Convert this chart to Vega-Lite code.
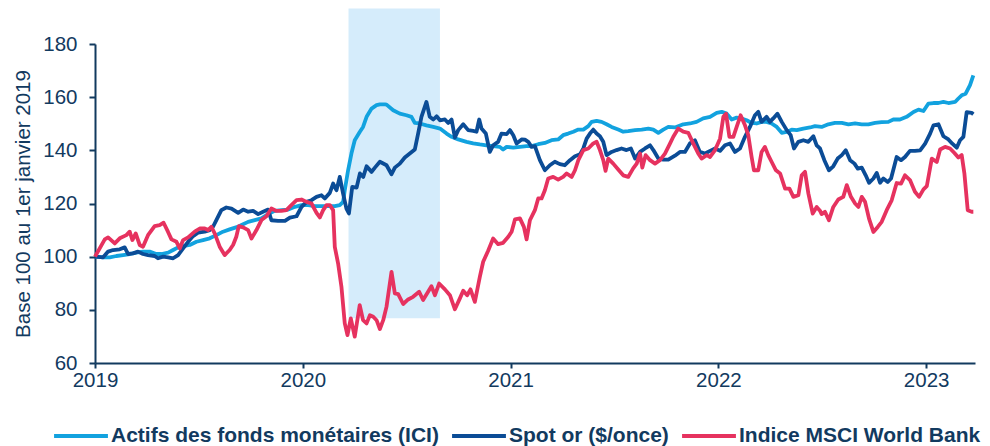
{
  "$schema": "https://vega.github.io/schema/vega-lite/v6.json",
  "width": 880,
  "height": 319,
  "autosize": {"type": "none"},
  "padding": {"left": 95, "top": 44, "right": 15, "bottom": 83},
  "background": "white",
  "config": {"view": {"stroke": null}, "font": "Liberation Sans"},
  "datasets": {
    "shade": [{"t": 2020.22, "t2": 2020.66, "v": 76.8, "v2": 193.4}],
    "ici": [
      {"t": 2019.0, "v": 100}, {"t": 2019.039, "v": 99.75}, {"t": 2019.071, "v": 99.75}, {"t": 2019.103, "v": 100.25},
      {"t": 2019.135, "v": 100.6}, {"t": 2019.167, "v": 101}, {"t": 2019.199, "v": 101.5}, {"t": 2019.231, "v": 101.9},
      {"t": 2019.263, "v": 101.9}, {"t": 2019.295, "v": 101}, {"t": 2019.32, "v": 101}, {"t": 2019.352, "v": 101.5},
      {"t": 2019.376, "v": 102.5}, {"t": 2019.4, "v": 103.5}, {"t": 2019.424, "v": 104}, {"t": 2019.456, "v": 104.4},
      {"t": 2019.488, "v": 105.6}, {"t": 2019.52, "v": 106.25}, {"t": 2019.552, "v": 106.9}, {"t": 2019.584, "v": 108.1},
      {"t": 2019.616, "v": 109.4}, {"t": 2019.648, "v": 110.25}, {"t": 2019.69, "v": 111.3}, {"t": 2019.705, "v": 111.9},
      {"t": 2019.737, "v": 113.1}, {"t": 2019.769, "v": 113.75}, {"t": 2019.801, "v": 114.4}, {"t": 2019.833, "v": 116},
      {"t": 2019.865, "v": 117.25}, {"t": 2019.898, "v": 117.5}, {"t": 2019.93, "v": 117.7}, {"t": 2019.962, "v": 118.75},
      {"t": 2019.994, "v": 119.4}, {"t": 2020.026, "v": 119.4}, {"t": 2020.058, "v": 119}, {"t": 2020.09, "v": 119},
      {"t": 2020.122, "v": 119}, {"t": 2020.154, "v": 119}, {"t": 2020.178, "v": 119.4}, {"t": 2020.194, "v": 120.6},
      {"t": 2020.202, "v": 125}, {"t": 2020.218, "v": 132.5}, {"t": 2020.234, "v": 138.8}, {"t": 2020.25, "v": 143.8},
      {"t": 2020.274, "v": 146.9}, {"t": 2020.29, "v": 148.8}, {"t": 2020.307, "v": 152.6}, {"t": 2020.331, "v": 155.7},
      {"t": 2020.355, "v": 157}, {"t": 2020.371, "v": 157.3}, {"t": 2020.395, "v": 157.3}, {"t": 2020.403, "v": 157.2},
      {"t": 2020.435, "v": 155.1}, {"t": 2020.467, "v": 153.8}, {"t": 2020.499, "v": 153.2}, {"t": 2020.523, "v": 152.6},
      {"t": 2020.539, "v": 150.3}, {"t": 2020.563, "v": 150.1}, {"t": 2020.595, "v": 149.4}, {"t": 2020.628, "v": 148.8},
      {"t": 2020.66, "v": 148.2}, {"t": 2020.692, "v": 146.3}, {"t": 2020.716, "v": 145.1}, {"t": 2020.748, "v": 144.1},
      {"t": 2020.788, "v": 143.2}, {"t": 2020.82, "v": 142.6}, {"t": 2020.852, "v": 142.2}, {"t": 2020.884, "v": 141.9},
      {"t": 2020.916, "v": 141.6}, {"t": 2020.948, "v": 141.3}, {"t": 2020.964, "v": 140.3}, {"t": 2020.981, "v": 141.3},
      {"t": 2021.013, "v": 141.05}, {"t": 2021.045, "v": 141.3}, {"t": 2021.077, "v": 141.6}, {"t": 2021.101, "v": 141.6},
      {"t": 2021.133, "v": 142.3}, {"t": 2021.165, "v": 142.8}, {"t": 2021.197, "v": 143.8}, {"t": 2021.229, "v": 144.1},
      {"t": 2021.253, "v": 145.7}, {"t": 2021.277, "v": 146.3}, {"t": 2021.302, "v": 147}, {"t": 2021.326, "v": 147.8},
      {"t": 2021.35, "v": 147.8}, {"t": 2021.374, "v": 149.1}, {"t": 2021.39, "v": 150.7}, {"t": 2021.414, "v": 151.1},
      {"t": 2021.438, "v": 150.7}, {"t": 2021.462, "v": 149.8}, {"t": 2021.486, "v": 148.8}, {"t": 2021.518, "v": 147.8},
      {"t": 2021.542, "v": 147}, {"t": 2021.566, "v": 147.2}, {"t": 2021.599, "v": 147.6}, {"t": 2021.631, "v": 147.8},
      {"t": 2021.663, "v": 148.2}, {"t": 2021.687, "v": 147.8}, {"t": 2021.711, "v": 146.6}, {"t": 2021.735, "v": 147.8},
      {"t": 2021.759, "v": 148.8}, {"t": 2021.791, "v": 148.6}, {"t": 2021.831, "v": 149.8}, {"t": 2021.863, "v": 150.1},
      {"t": 2021.895, "v": 150.7}, {"t": 2021.927, "v": 152}, {"t": 2021.96, "v": 152.6}, {"t": 2021.992, "v": 154.1},
      {"t": 2022.016, "v": 154.5}, {"t": 2022.04, "v": 153.8}, {"t": 2022.064, "v": 151.6}, {"t": 2022.088, "v": 152.3},
      {"t": 2022.112, "v": 152}, {"t": 2022.136, "v": 151.3}, {"t": 2022.16, "v": 150.3}, {"t": 2022.184, "v": 150.1},
      {"t": 2022.208, "v": 150.7}, {"t": 2022.232, "v": 150.7}, {"t": 2022.256, "v": 150.1}, {"t": 2022.281, "v": 148.8},
      {"t": 2022.305, "v": 146.6}, {"t": 2022.329, "v": 146.9}, {"t": 2022.353, "v": 147.8}, {"t": 2022.377, "v": 147.6},
      {"t": 2022.409, "v": 148.2}, {"t": 2022.441, "v": 148.6}, {"t": 2022.465, "v": 149.1}, {"t": 2022.497, "v": 148.8},
      {"t": 2022.529, "v": 149.8}, {"t": 2022.561, "v": 150.3}, {"t": 2022.594, "v": 150.3}, {"t": 2022.626, "v": 149.8},
      {"t": 2022.658, "v": 150.1}, {"t": 2022.69, "v": 149.8}, {"t": 2022.722, "v": 149.8}, {"t": 2022.754, "v": 150.3},
      {"t": 2022.786, "v": 150.6}, {"t": 2022.818, "v": 150.7}, {"t": 2022.842, "v": 151.6}, {"t": 2022.874, "v": 151.6},
      {"t": 2022.906, "v": 152.6}, {"t": 2022.939, "v": 154.4}, {"t": 2022.963, "v": 155.3}, {"t": 2022.987, "v": 154.8},
      {"t": 2023.011, "v": 157.6}, {"t": 2023.035, "v": 157.8}, {"t": 2023.059, "v": 157.8}, {"t": 2023.083, "v": 158.2},
      {"t": 2023.107, "v": 157.8}, {"t": 2023.139, "v": 158.2}, {"t": 2023.155, "v": 159.5}, {"t": 2023.171, "v": 160.7},
      {"t": 2023.19, "v": 161.3}, {"t": 2023.211, "v": 164.5}, {"t": 2023.227, "v": 168.2}
    ],
    "gold": [
      {"t": 2019.0, "v": 100}, {"t": 2019.039, "v": 99.75}, {"t": 2019.063, "v": 101.9}, {"t": 2019.087, "v": 102.5},
      {"t": 2019.119, "v": 102.75}, {"t": 2019.143, "v": 103.5}, {"t": 2019.159, "v": 101}, {"t": 2019.183, "v": 101.25},
      {"t": 2019.207, "v": 101.9}, {"t": 2019.231, "v": 101}, {"t": 2019.255, "v": 100.6}, {"t": 2019.287, "v": 100.25},
      {"t": 2019.303, "v": 99.4}, {"t": 2019.328, "v": 100}, {"t": 2019.352, "v": 99.75}, {"t": 2019.376, "v": 99.4},
      {"t": 2019.4, "v": 100.6}, {"t": 2019.424, "v": 103.1}, {"t": 2019.448, "v": 105.6}, {"t": 2019.472, "v": 107.75},
      {"t": 2019.496, "v": 109}, {"t": 2019.528, "v": 109.4}, {"t": 2019.552, "v": 110}, {"t": 2019.568, "v": 111.25},
      {"t": 2019.584, "v": 113.75}, {"t": 2019.608, "v": 117.5}, {"t": 2019.632, "v": 118.5}, {"t": 2019.657, "v": 118.1},
      {"t": 2019.689, "v": 116.5}, {"t": 2019.713, "v": 117.7}, {"t": 2019.737, "v": 116.9}, {"t": 2019.761, "v": 117.2},
      {"t": 2019.785, "v": 116}, {"t": 2019.809, "v": 116.9}, {"t": 2019.833, "v": 117.7}, {"t": 2019.849, "v": 113.7},
      {"t": 2019.881, "v": 113.5}, {"t": 2019.914, "v": 113.5}, {"t": 2019.938, "v": 114.7}, {"t": 2019.97, "v": 115.2},
      {"t": 2019.994, "v": 118.7}, {"t": 2020.018, "v": 120.6}, {"t": 2020.042, "v": 121.25}, {"t": 2020.066, "v": 122.5},
      {"t": 2020.09, "v": 123.1}, {"t": 2020.106, "v": 121.9}, {"t": 2020.13, "v": 124}, {"t": 2020.146, "v": 127.5},
      {"t": 2020.162, "v": 125}, {"t": 2020.178, "v": 130}, {"t": 2020.194, "v": 123.75}, {"t": 2020.21, "v": 118.1},
      {"t": 2020.222, "v": 116.25}, {"t": 2020.238, "v": 126.25}, {"t": 2020.259, "v": 126}, {"t": 2020.275, "v": 131.3},
      {"t": 2020.291, "v": 130}, {"t": 2020.307, "v": 134}, {"t": 2020.331, "v": 131.9}, {"t": 2020.347, "v": 133.5},
      {"t": 2020.371, "v": 135.7}, {"t": 2020.403, "v": 134.4}, {"t": 2020.427, "v": 131}, {"t": 2020.443, "v": 133.5},
      {"t": 2020.467, "v": 135}, {"t": 2020.491, "v": 137.3}, {"t": 2020.515, "v": 138.8}, {"t": 2020.539, "v": 140.3},
      {"t": 2020.555, "v": 146.3}, {"t": 2020.571, "v": 152.6}, {"t": 2020.595, "v": 158.2}, {"t": 2020.611, "v": 152.6},
      {"t": 2020.628, "v": 151.6}, {"t": 2020.644, "v": 152.8}, {"t": 2020.66, "v": 151.3}, {"t": 2020.684, "v": 151.6},
      {"t": 2020.7, "v": 150.3}, {"t": 2020.716, "v": 151.6}, {"t": 2020.732, "v": 144.8}, {"t": 2020.748, "v": 147.6},
      {"t": 2020.772, "v": 149.8}, {"t": 2020.796, "v": 147.6}, {"t": 2020.82, "v": 147.3}, {"t": 2020.836, "v": 147},
      {"t": 2020.849, "v": 151.6}, {"t": 2020.86, "v": 148.2}, {"t": 2020.881, "v": 146.3}, {"t": 2020.9, "v": 139.4},
      {"t": 2020.916, "v": 141.9}, {"t": 2020.94, "v": 143.2}, {"t": 2020.956, "v": 146.3}, {"t": 2020.981, "v": 146.1},
      {"t": 2020.997, "v": 147.6}, {"t": 2021.013, "v": 145.7}, {"t": 2021.029, "v": 142.6}, {"t": 2021.053, "v": 144.1},
      {"t": 2021.069, "v": 144}, {"t": 2021.085, "v": 143.2}, {"t": 2021.101, "v": 141.3}, {"t": 2021.117, "v": 141.6},
      {"t": 2021.141, "v": 136.3}, {"t": 2021.165, "v": 132.5}, {"t": 2021.189, "v": 134.4}, {"t": 2021.213, "v": 135.7},
      {"t": 2021.237, "v": 134.8}, {"t": 2021.261, "v": 134.4}, {"t": 2021.286, "v": 136.3}, {"t": 2021.31, "v": 137.8},
      {"t": 2021.334, "v": 138.5}, {"t": 2021.35, "v": 140.7}, {"t": 2021.366, "v": 144.4}, {"t": 2021.382, "v": 146.3},
      {"t": 2021.398, "v": 147.8}, {"t": 2021.414, "v": 146.3}, {"t": 2021.43, "v": 145.3}, {"t": 2021.446, "v": 143.2},
      {"t": 2021.462, "v": 138.2}, {"t": 2021.486, "v": 139.4}, {"t": 2021.51, "v": 140.1}, {"t": 2021.534, "v": 140.7},
      {"t": 2021.558, "v": 140.1}, {"t": 2021.579, "v": 140.7}, {"t": 2021.599, "v": 136.9}, {"t": 2021.623, "v": 139.4},
      {"t": 2021.647, "v": 140.7}, {"t": 2021.671, "v": 141.9}, {"t": 2021.687, "v": 140.1}, {"t": 2021.711, "v": 136.9},
      {"t": 2021.735, "v": 136.5}, {"t": 2021.759, "v": 136.5}, {"t": 2021.791, "v": 138}, {"t": 2021.815, "v": 139.4},
      {"t": 2021.839, "v": 139.4}, {"t": 2021.863, "v": 142.6}, {"t": 2021.887, "v": 143.8}, {"t": 2021.911, "v": 139.4},
      {"t": 2021.936, "v": 138.8}, {"t": 2021.96, "v": 139.8}, {"t": 2021.984, "v": 140.7}, {"t": 2022.008, "v": 139.8},
      {"t": 2022.032, "v": 141.9}, {"t": 2022.056, "v": 142.6}, {"t": 2022.08, "v": 139.4}, {"t": 2022.104, "v": 140.7},
      {"t": 2022.128, "v": 145.1}, {"t": 2022.152, "v": 148.8}, {"t": 2022.176, "v": 153.2}, {"t": 2022.192, "v": 154.5},
      {"t": 2022.208, "v": 150.7}, {"t": 2022.232, "v": 152.6}, {"t": 2022.248, "v": 150.7}, {"t": 2022.264, "v": 152},
      {"t": 2022.284, "v": 153.8}, {"t": 2022.305, "v": 150.7}, {"t": 2022.329, "v": 147.6}, {"t": 2022.348, "v": 145.7},
      {"t": 2022.364, "v": 140.7}, {"t": 2022.385, "v": 143.2}, {"t": 2022.409, "v": 143.8}, {"t": 2022.433, "v": 143.2},
      {"t": 2022.457, "v": 145.3}, {"t": 2022.473, "v": 141.9}, {"t": 2022.489, "v": 140.7}, {"t": 2022.51, "v": 136.3},
      {"t": 2022.532, "v": 132.5}, {"t": 2022.553, "v": 134}, {"t": 2022.574, "v": 136.9}, {"t": 2022.594, "v": 138.2},
      {"t": 2022.613, "v": 140}, {"t": 2022.634, "v": 136.3}, {"t": 2022.655, "v": 135}, {"t": 2022.671, "v": 133.1},
      {"t": 2022.69, "v": 133.5}, {"t": 2022.709, "v": 130.6}, {"t": 2022.725, "v": 127.8}, {"t": 2022.746, "v": 129.4},
      {"t": 2022.762, "v": 131.5}, {"t": 2022.778, "v": 127.8}, {"t": 2022.794, "v": 129.4}, {"t": 2022.815, "v": 128.1},
      {"t": 2022.831, "v": 129.4}, {"t": 2022.858, "v": 137.5}, {"t": 2022.879, "v": 136.3}, {"t": 2022.898, "v": 137.5},
      {"t": 2022.922, "v": 139.8}, {"t": 2022.946, "v": 139.8}, {"t": 2022.971, "v": 140}, {"t": 2022.995, "v": 142.5},
      {"t": 2023.019, "v": 146.3}, {"t": 2023.035, "v": 149.4}, {"t": 2023.059, "v": 149.8}, {"t": 2023.083, "v": 145.3},
      {"t": 2023.107, "v": 144.1}, {"t": 2023.126, "v": 142.5}, {"t": 2023.147, "v": 141}, {"t": 2023.163, "v": 143.8},
      {"t": 2023.179, "v": 145.05}, {"t": 2023.195, "v": 154.4}, {"t": 2023.219, "v": 154.1}, {"t": 2023.227, "v": 153.6}
    ],
    "msci": [
      {"t": 2019.0, "v": 100}, {"t": 2019.047, "v": 106.5}, {"t": 2019.063, "v": 107.25}, {"t": 2019.095, "v": 105},
      {"t": 2019.119, "v": 106.9}, {"t": 2019.151, "v": 108.1}, {"t": 2019.167, "v": 109.4}, {"t": 2019.18, "v": 106.25},
      {"t": 2019.196, "v": 108.75}, {"t": 2019.215, "v": 104.4}, {"t": 2019.231, "v": 103.75}, {"t": 2019.255, "v": 108.1},
      {"t": 2019.287, "v": 111.5}, {"t": 2019.311, "v": 111.9}, {"t": 2019.33, "v": 112.75}, {"t": 2019.351, "v": 109.4},
      {"t": 2019.368, "v": 106.5}, {"t": 2019.392, "v": 105.6}, {"t": 2019.408, "v": 103.1}, {"t": 2019.424, "v": 106.25},
      {"t": 2019.448, "v": 107.25}, {"t": 2019.48, "v": 109.4}, {"t": 2019.504, "v": 110.6}, {"t": 2019.528, "v": 110.6},
      {"t": 2019.544, "v": 110}, {"t": 2019.56, "v": 111.25}, {"t": 2019.576, "v": 108.75}, {"t": 2019.6, "v": 103.75},
      {"t": 2019.624, "v": 100.6}, {"t": 2019.648, "v": 102.5}, {"t": 2019.665, "v": 104.5}, {"t": 2019.68, "v": 107.5},
      {"t": 2019.692, "v": 111.5}, {"t": 2019.713, "v": 111}, {"t": 2019.737, "v": 110}, {"t": 2019.753, "v": 106.8},
      {"t": 2019.777, "v": 110}, {"t": 2019.801, "v": 113.75}, {"t": 2019.825, "v": 115.2}, {"t": 2019.849, "v": 118.1},
      {"t": 2019.873, "v": 117.2}, {"t": 2019.897, "v": 117.2}, {"t": 2019.921, "v": 117.5}, {"t": 2019.945, "v": 119.4},
      {"t": 2019.97, "v": 121.25}, {"t": 2019.994, "v": 121.5}, {"t": 2020.018, "v": 120.6}, {"t": 2020.042, "v": 120},
      {"t": 2020.066, "v": 116.5}, {"t": 2020.082, "v": 114.75}, {"t": 2020.098, "v": 117.5}, {"t": 2020.114, "v": 119.4},
      {"t": 2020.13, "v": 119.4}, {"t": 2020.146, "v": 117.5}, {"t": 2020.154, "v": 103.7}, {"t": 2020.17, "v": 97.4},
      {"t": 2020.186, "v": 88.7}, {"t": 2020.202, "v": 74.9}, {"t": 2020.215, "v": 70.5}, {"t": 2020.231, "v": 76.8},
      {"t": 2020.25, "v": 69.9}, {"t": 2020.274, "v": 81.8}, {"t": 2020.29, "v": 76.1}, {"t": 2020.307, "v": 74.9},
      {"t": 2020.323, "v": 78}, {"t": 2020.339, "v": 77.4}, {"t": 2020.355, "v": 76.1}, {"t": 2020.371, "v": 72.8},
      {"t": 2020.387, "v": 76.1}, {"t": 2020.403, "v": 81.2}, {"t": 2020.427, "v": 94.3}, {"t": 2020.443, "v": 86.2},
      {"t": 2020.459, "v": 85.9}, {"t": 2020.483, "v": 82.2}, {"t": 2020.507, "v": 83.9}, {"t": 2020.531, "v": 84.9},
      {"t": 2020.56, "v": 86.8}, {"t": 2020.579, "v": 83.7}, {"t": 2020.603, "v": 86.8}, {"t": 2020.619, "v": 88.9},
      {"t": 2020.636, "v": 85.5}, {"t": 2020.656, "v": 89.9}, {"t": 2020.684, "v": 87.7}, {"t": 2020.708, "v": 85.5},
      {"t": 2020.732, "v": 80.2}, {"t": 2020.756, "v": 84.3}, {"t": 2020.772, "v": 87.2}, {"t": 2020.791, "v": 85.5},
      {"t": 2020.807, "v": 87.7}, {"t": 2020.828, "v": 83}, {"t": 2020.852, "v": 92.4}, {"t": 2020.868, "v": 98.1},
      {"t": 2020.892, "v": 102.2}, {"t": 2020.916, "v": 106.8}, {"t": 2020.94, "v": 104.7}, {"t": 2020.964, "v": 105.2},
      {"t": 2020.989, "v": 107.5}, {"t": 2021.005, "v": 109.4}, {"t": 2021.021, "v": 114}, {"t": 2021.045, "v": 114.4},
      {"t": 2021.064, "v": 111.2}, {"t": 2021.077, "v": 106.5}, {"t": 2021.093, "v": 113.7}, {"t": 2021.117, "v": 117.5},
      {"t": 2021.133, "v": 121.9}, {"t": 2021.149, "v": 121.9}, {"t": 2021.165, "v": 125}, {"t": 2021.181, "v": 129.4},
      {"t": 2021.205, "v": 130}, {"t": 2021.229, "v": 129}, {"t": 2021.253, "v": 130}, {"t": 2021.27, "v": 131.3},
      {"t": 2021.294, "v": 130}, {"t": 2021.31, "v": 132.5}, {"t": 2021.326, "v": 136.3}, {"t": 2021.35, "v": 140.1},
      {"t": 2021.374, "v": 140.7}, {"t": 2021.398, "v": 142.6}, {"t": 2021.414, "v": 143.2}, {"t": 2021.43, "v": 140.1},
      {"t": 2021.446, "v": 136.3}, {"t": 2021.457, "v": 132.3}, {"t": 2021.47, "v": 136.9}, {"t": 2021.494, "v": 135},
      {"t": 2021.518, "v": 132.8}, {"t": 2021.542, "v": 130.6}, {"t": 2021.566, "v": 130}, {"t": 2021.59, "v": 133.2},
      {"t": 2021.607, "v": 135}, {"t": 2021.623, "v": 138.8}, {"t": 2021.634, "v": 133.5}, {"t": 2021.65, "v": 138.2},
      {"t": 2021.671, "v": 136.3}, {"t": 2021.695, "v": 135}, {"t": 2021.719, "v": 136.3}, {"t": 2021.743, "v": 138.8},
      {"t": 2021.767, "v": 142.5}, {"t": 2021.783, "v": 145.1}, {"t": 2021.807, "v": 148.2}, {"t": 2021.831, "v": 147},
      {"t": 2021.855, "v": 146.6}, {"t": 2021.879, "v": 142.6}, {"t": 2021.903, "v": 138.8}, {"t": 2021.919, "v": 136.9},
      {"t": 2021.944, "v": 138.2}, {"t": 2021.96, "v": 137.5}, {"t": 2021.984, "v": 140.1}, {"t": 2022.008, "v": 144.4},
      {"t": 2022.024, "v": 152.6}, {"t": 2022.037, "v": 153.8}, {"t": 2022.053, "v": 145.1}, {"t": 2022.072, "v": 145.1},
      {"t": 2022.088, "v": 148.8}, {"t": 2022.107, "v": 153.2}, {"t": 2022.128, "v": 149.4}, {"t": 2022.144, "v": 145.7},
      {"t": 2022.16, "v": 137.5}, {"t": 2022.171, "v": 132.5}, {"t": 2022.192, "v": 132.5}, {"t": 2022.208, "v": 139.4},
      {"t": 2022.224, "v": 141.3}, {"t": 2022.24, "v": 138.2}, {"t": 2022.256, "v": 135.7}, {"t": 2022.277, "v": 132.5},
      {"t": 2022.297, "v": 131.3}, {"t": 2022.321, "v": 125.6}, {"t": 2022.342, "v": 125.6}, {"t": 2022.361, "v": 122.5},
      {"t": 2022.385, "v": 123.1}, {"t": 2022.401, "v": 130.6}, {"t": 2022.417, "v": 131.9}, {"t": 2022.433, "v": 123.8},
      {"t": 2022.454, "v": 116.2}, {"t": 2022.473, "v": 118.7}, {"t": 2022.489, "v": 117.3}, {"t": 2022.497, "v": 116},
      {"t": 2022.513, "v": 116.9}, {"t": 2022.532, "v": 113.7}, {"t": 2022.553, "v": 118.7}, {"t": 2022.577, "v": 121.5},
      {"t": 2022.601, "v": 122.5}, {"t": 2022.618, "v": 126.9}, {"t": 2022.638, "v": 122.5}, {"t": 2022.658, "v": 120},
      {"t": 2022.674, "v": 118.7}, {"t": 2022.69, "v": 122.5}, {"t": 2022.706, "v": 120.6}, {"t": 2022.725, "v": 114.3},
      {"t": 2022.746, "v": 109.3}, {"t": 2022.767, "v": 111.2}, {"t": 2022.786, "v": 113.1}, {"t": 2022.81, "v": 117.5},
      {"t": 2022.834, "v": 121.2}, {"t": 2022.858, "v": 127.7}, {"t": 2022.879, "v": 127.5}, {"t": 2022.898, "v": 130.6},
      {"t": 2022.922, "v": 128.8}, {"t": 2022.946, "v": 124.4}, {"t": 2022.966, "v": 122.5}, {"t": 2022.987, "v": 125.3},
      {"t": 2023.003, "v": 126.5}, {"t": 2023.027, "v": 136.9}, {"t": 2023.051, "v": 135.6}, {"t": 2023.067, "v": 140.3},
      {"t": 2023.091, "v": 141.3}, {"t": 2023.115, "v": 140.7}, {"t": 2023.136, "v": 139}, {"t": 2023.155, "v": 137.3},
      {"t": 2023.171, "v": 138.2}, {"t": 2023.184, "v": 131.3}, {"t": 2023.2, "v": 117.5}, {"t": 2023.219, "v": 116.9},
      {"t": 2023.227, "v": 116.9}
    ]
  },
  "encoding": {
    "x": {
      "field": "t",
      "type": "quantitative",
      "scale": {"domain": [2019, 2023.235], "nice": false, "zero": false},
      "axis": {
        "title": null,
        "values": [2019, 2020, 2021, 2022, 2023],
        "format": "d",
        "grid": false,
        "labelFlush": false,
        "labelOverlap": false,
        "domainColor": "#123a5f",
        "domainWidth": 2,
        "tickColor": "#123a5f",
        "tickWidth": 2,
        "tickSize": 5,
        "labelPadding": 2,
        "labelFont": "Liberation Sans",
        "labelFontSize": 20.5,
        "labelColor": "#123a5f"
      }
    },
    "y": {
      "field": "v",
      "type": "quantitative",
      "scale": {"domain": [60, 180], "nice": false, "zero": false},
      "axis": {
        "title": "Base 100 au 1er janvier 2019",
        "values": [60, 80, 100, 120, 140, 160, 180],
        "grid": false,
        "domainColor": "#123a5f",
        "domainWidth": 2,
        "tickColor": "#123a5f",
        "tickWidth": 2,
        "tickSize": 6,
        "labelPadding": 12,
        "labelFont": "Liberation Sans",
        "labelFontSize": 20.5,
        "labelColor": "#123a5f",
        "titleFont": "Liberation Sans",
        "titleFontSize": 20.5,
        "titleFontWeight": "normal",
        "titleColor": "#123a5f",
        "titlePadding": 9
      }
    }
  },
  "layer": [
    {
      "data": {"name": "shade"},
      "mark": {"type": "rect", "color": "#d5ecfb"},
      "encoding": {"x2": {"field": "t2"}, "y2": {"field": "v2"}}
    },
    {
      "data": {"name": "ici"},
      "mark": {"type": "line", "strokeWidth": 3.8, "strokeJoin": "round"},
      "encoding": {
        "color": {
          "datum": "Actifs des fonds monétaires (ICI)",
          "type": "nominal",
          "scale": {
            "domain": ["Actifs des fonds monétaires (ICI)", "Spot or ($/once)", "Indice MSCI World Bank"],
            "range": ["#12a2df", "#0b4c96", "#e6325f"]
          },
          "legend": {
            "orient": "none",
            "legendX": -43,
            "legendY": 363,
            "direction": "horizontal",
            "title": null,
            "padding": 0,
            "symbolType": "stroke",
            "symbolSize": 2900,
            "symbolStrokeWidth": 4,
            "labelFont": "Liberation Sans",
            "labelFontSize": 21,
            "labelFontWeight": "bold",
            "labelColor": "#123a5f",
            "labelOffset": 1,
            "labelLimit": 0,
            "columnPadding": 5
          }
        }
      }
    },
    {
      "data": {"name": "gold"},
      "mark": {"type": "line", "strokeWidth": 3.8, "strokeJoin": "round"},
      "encoding": {"color": {"datum": "Spot or ($/once)", "type": "nominal"}}
    },
    {
      "data": {"name": "msci"},
      "mark": {"type": "line", "strokeWidth": 3.8, "strokeJoin": "round"},
      "encoding": {"color": {"datum": "Indice MSCI World Bank", "type": "nominal"}}
    }
  ]
}
